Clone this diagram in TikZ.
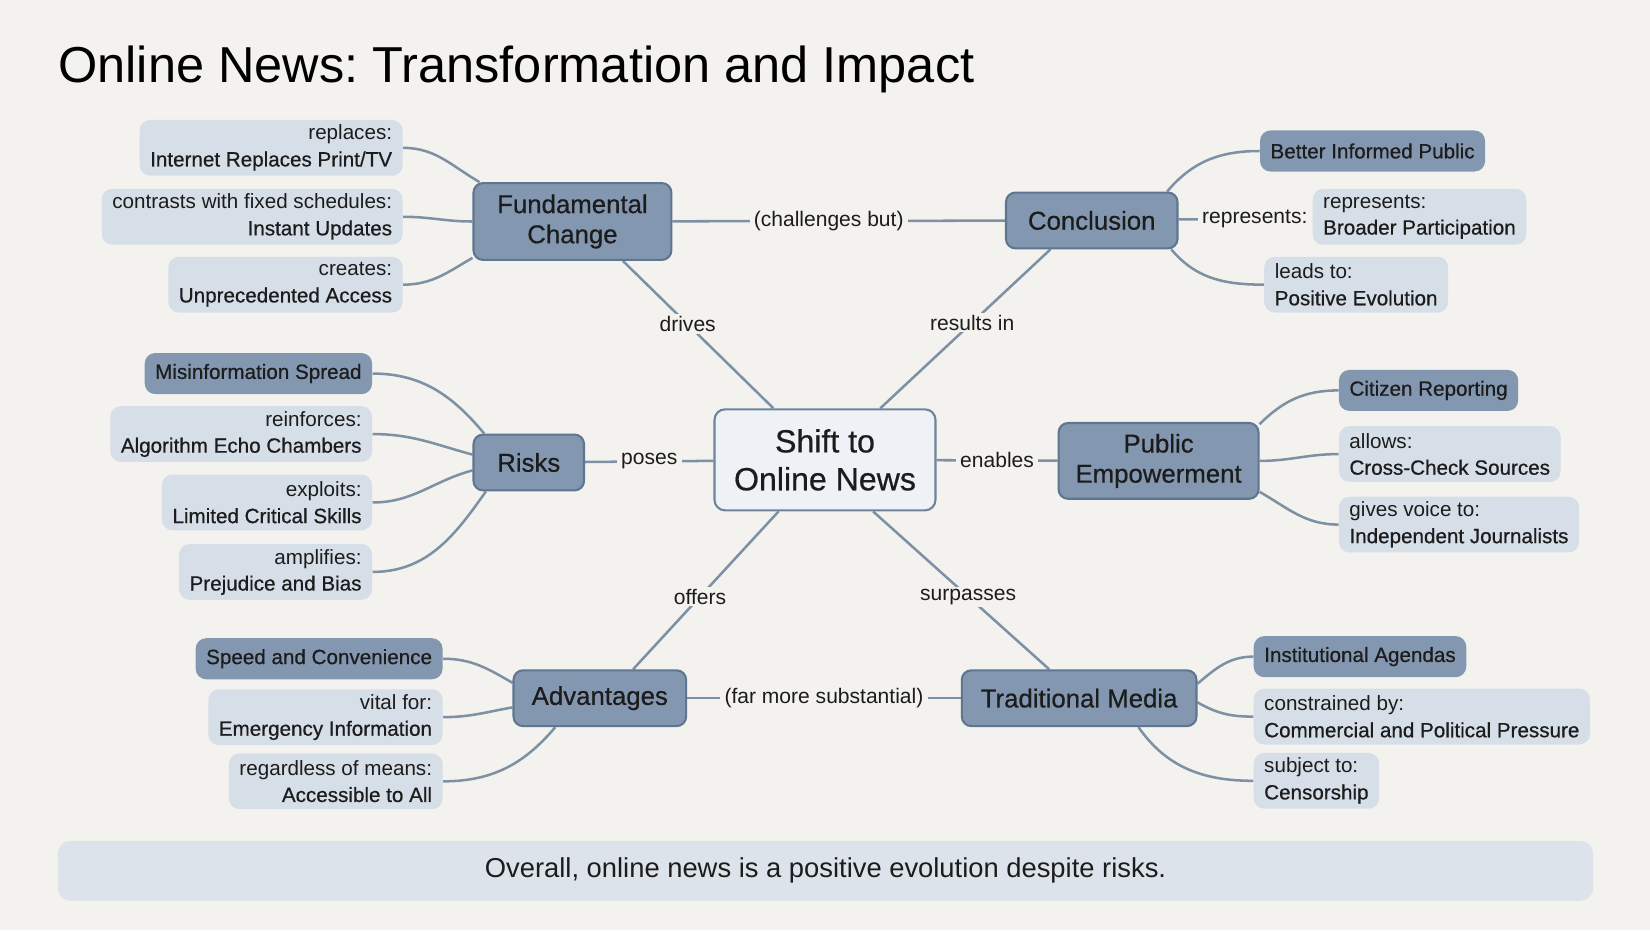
\documentclass[tikz,border=0pt]{standalone}
\usepackage{fontspec}
\setmainfont{Liberation Sans}
\newfontfamily\medfont[FakeBold=0.6]{Liberation Sans}
\usetikzlibrary{backgrounds}
\definecolor{bg}{HTML}{F3F2EE}
\definecolor{dark}{HTML}{8398B0}
\definecolor{darkb}{HTML}{5F7690}
\definecolor{light}{HTML}{D6DFE8}
\definecolor{centerfill}{HTML}{EEF2F6}
\definecolor{centerb}{HTML}{6F849C}
\definecolor{linec}{HTML}{7E90A4}
\definecolor{txt}{HTML}{1C1C1C}
\definecolor{banner}{HTML}{DDE3EA}
\newcommand\bfx[1]{{\medfont #1}}
\frenchspacing
\begin{document}
\begin{tikzpicture}[x=0.5pt,y=-0.5pt,
  main/.style={draw=darkb,line width=1pt,fill=dark,rounded corners=4.5pt,align=center,text=txt,font=\medfont\fontsize{12.25}{14.3}\selectfont,inner sep=2pt},
  hub/.style={draw=centerb,line width=1pt,fill=centerfill,rounded corners=5pt,align=center,text=txt,font=\medfont\fontsize{15.25}{18}\selectfont,minimum width=105pt,minimum height=48pt},
  leafL/.style={fill=light,rounded corners=5pt,align=right,anchor=east,text=txt,font=\fontsize{9.8}{12.6}\selectfont,inner xsep=5pt,inner ysep=2pt,minimum height=26.5pt},
  leafR/.style={leafL,align=left,anchor=west},
  darkleaf/.style={fill=dark,rounded corners=5pt,text=txt,font=\medfont\fontsize{9.8}{12}\selectfont,inner xsep=5pt,inner ysep=2pt,minimum height=19.5pt},
  link/.style={draw=linec,line width=1.2pt},
  elab/.style={fill=bg,inner xsep=2pt,inner ysep=1pt,text=txt,font=\fontsize{10}{12}\selectfont},
]
\useasboundingbox (0,0) rectangle (1568,884);
% title
\node[anchor=base west,font=\fontsize{24}{28}\selectfont,text=black,inner sep=0] (title) at (55,78) {Online News: Transformation and Impact};
% main nodes
\node[hub] (c) at (784,437) {Shift to\\Online News};
\node[main,minimum width=94pt,minimum height=36.5pt] (fc) at (544,210.5) {Fundamental\\Change};
\node[main,minimum width=81.5pt,minimum height=26.5pt] (co) at (1037.5,209.5) {Conclusion};
\node[main,minimum width=52.5pt,minimum height=26.5pt] (ri) at (502.5,439.5) {Risks};
\node[main,minimum width=95pt,minimum height=36pt] (pe) at (1101,438) {Public\\Empowerment};
\node[main,minimum width=82pt,minimum height=26.5pt] (ad) at (570,663.5) {Advantages};
\node[main,minimum width=111.5pt,minimum height=26.5pt] (tm) at (1025.5,663.5) {Traditional Media};
% leaves
\node[leafL] (fc1) at (383,140.5) {replaces:\\\bfx{Internet Replaces Print/TV}};
\node[leafL] (fc2) at (383,206) {contrasts with fixed schedules:\\\bfx{Instant Updates}};
\node[leafL] (fc3) at (383,270.5) {creates:\\\bfx{Unprecedented Access}};
\node[darkleaf,anchor=west] (co1) at (1197,143.5) {Better Informed Public};
\node[leafR] (co2) at (1247,206) {represents:\\\bfx{Broader Participation}};
\node[leafR] (co3) at (1201,270.5) {leads to:\\\bfx{Positive Evolution}};
\node[darkleaf,anchor=east] (ri1) at (354,355) {Misinformation Spread};
\node[leafL] (ri2) at (354,412.5) {reinforces:\\\bfx{Algorithm Echo Chambers}};
\node[leafL] (ri3) at (354,477.5) {exploits:\\\bfx{Limited Critical Skills}};
\node[leafL] (ri4) at (354,543.5) {amplifies:\\\bfx{Prejudice and Bias}};
\node[darkleaf,anchor=west] (pe1) at (1272,371) {Citizen Reporting};
\node[leafR] (pe2) at (1272,431.5) {allows:\\\bfx{Cross-Check Sources}};
\node[leafR] (pe3) at (1272,498.5) {gives voice to:\\\bfx{Independent Journalists}};
\node[darkleaf,anchor=east] (ad1) at (421,626) {Speed and Convenience};
\node[leafL] (ad2) at (421,681.5) {vital for:\\\bfx{Emergency Information}};
\node[leafL] (ad3) at (421,742.5) {regardless of means:\\\bfx{Accessible to All}};
\node[darkleaf,anchor=west] (tm1) at (1191,624) {Institutional Agendas};
\node[leafR] (tm2) at (1191,681) {constrained by:\\\bfx{Commercial and Political Pressure}};
\node[leafR] (tm3) at (1191,742) {subject to:\\\bfx{Censorship}};
% banner
\node[fill=banner,rounded corners=6pt,minimum width=729.5pt,minimum height=28.5pt,font=\fontsize{13}{15}\selectfont,text=txt] (banner) at (784.5,827.5) {Overall, online news is a positive evolution despite risks.};
\begin{scope}[on background layer]
\fill[bg] (0,0) rectangle (1568,884);
\draw[link] (fc) -- node[elab,pos=0.47]{(challenges but)} (co);
\draw[link] (c.135) -- node[elab,pos=0.57]{drives} (fc.322);
\draw[link] (c.43) -- node[elab,pos=0.54]{results in} (co.215);
\draw[link] (ri) -- node[elab]{poses} (c);
\draw[link] (c) -- node[elab]{enables} (pe);
\draw[link] (c.228) -- node[elab,pos=0.54]{offers} (ad.41);
\draw[link] (c.313) -- node[elab,pos=0.54]{surpasses} (tm.136);
\draw[link] (ad) -- node[elab]{(far more substantial)} (tm);
\draw[link] (co) -- node[elab,pos=0.57]{represents:} (co2);
\draw[link] (fc1.east) to[out=0,in=150] (fc.157);
\draw[link] (fc2.east) to[out=0,in=180] (fc.west);
\draw[link] (fc3.east) to[out=0,in=210] (fc.200);
\draw[link] (co.21) to[out=50,in=180] (co1.west);
\draw[link] (co.-20) to[out=-50,in=180] (co3.west);
\draw[link] (ri1.east) to[out=0,in=130] (ri.147);
\draw[link] (ri2.east) to[out=0,in=165] (ri.172);
\draw[link] (ri3.east) to[out=0,in=195] (ri.188);
\draw[link] (ri4.east) to[out=0,in=235] (ri.214);
\draw[link] (pe.20) to[out=45,in=180] (pe1.west);
\draw[link] (pe.0) to[out=0,in=180] (pe2.west);
\draw[link] (pe.-17) to[out=-30,in=180] (pe3.west);
\draw[link] (ad1.east) to[out=0,in=150] (ad.170);
\draw[link] (ad2.east) to[out=0,in=190] (ad.186);
\draw[link] (ad3.east) to[out=0,in=230] (ad.213);
\draw[link] (tm.7) to[out=40,in=180] (tm1.west);
\draw[link] (tm.-2) to[out=-30,in=180] (tm2.west);
\draw[link] (tm.-26) to[out=-55,in=180] (tm3.west);
\end{scope}
\end{tikzpicture}
\end{document}
